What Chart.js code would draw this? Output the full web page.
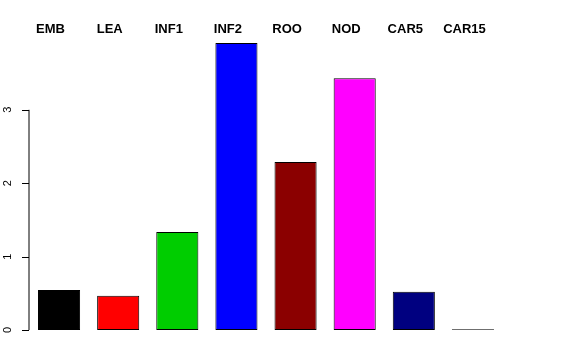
<!DOCTYPE html>
<html>
<head>
<meta charset="utf-8">
<script src="https://cdn.jsdelivr.net/npm/chart.js@4"></script>
<style>
  body { margin: 0; background: #fff; }
</style>
</head>
<body>
<canvas id="bars" width="576" height="360"></canvas>
<script>
var categories = ["EMB", "LEA", "INF1", "INF2", "ROO", "NOD", "CAR5", "CAR15"];
var values = [0.545, 0.465, 1.335, 3.91, 2.29, 3.43, 0.52, 0.01];
var barColors = ["#000000", "#FF0000", "#00CD00", "#0000FF", "#8B0000", "#FF00FF", "#000080", "#FFFFFF"];
var yTicks = [0, 1, 2, 3];

// R style axis on the left and bold labels above the bars
var rAxes = {
  id: 'rAxes',
  afterDraw: function(chart) {
    var c = chart.ctx;
    var y = chart.scales.y, x = chart.scales.x;
    var ax = chart.chartArea.left - 0.5;
    c.save();
    c.strokeStyle = '#000';
    c.lineWidth = 1;
    c.beginPath();
    c.moveTo(ax, y.getPixelForValue(yTicks[0]));
    c.lineTo(ax, y.getPixelForValue(yTicks[yTicks.length - 1]));
    yTicks.forEach(function(t) {
      var py = Math.round(y.getPixelForValue(t)) + 0.5;
      c.moveTo(ax, py);
      c.lineTo(ax - 7, py);
    });
    c.stroke();
    c.fillStyle = '#000';
    c.font = '11px "Liberation Sans", Arial, sans-serif';
    c.textAlign = 'center';
    c.textBaseline = 'middle';
    yTicks.forEach(function(t) {
      c.save();
      c.translate(8, y.getPixelForValue(t));
      c.rotate(-Math.PI / 2);
      c.fillText(String(t), 0, 0);
      c.restore();
    });
    c.font = 'bold 13px "Liberation Sans", Arial, sans-serif';
    categories.forEach(function(lab, i) {
      c.fillText(lab, x.getPixelForValue(i) - 8.5, 29);
    });
    c.restore();
  }
};

var ctx = document.getElementById("bars").getContext('2d');
var myChart = new Chart(ctx, {
  type: 'bar',
  data: {
    labels: categories,
    datasets: [{
      data: values,
      backgroundColor: barColors,
      borderColor: "#000000",
      borderWidth: 1,
      borderSkipped: false,
      categoryPercentage: 1,
      barPercentage: 0.712
    }]
  },
  options: {
    responsive: false,
    animation: false,
    layout: { padding: { left: 29.5, right: 73.5, top: 36.4, bottom: 30 } },
    scales: {
      x: { display: false },
      y: { display: false, min: 0, max: 4 }
    },
    plugins: {
      legend: { display: false },
      tooltip: { enabled: false }
    }
  },
  plugins: [rAxes]
});
</script>
</body>
</html>
